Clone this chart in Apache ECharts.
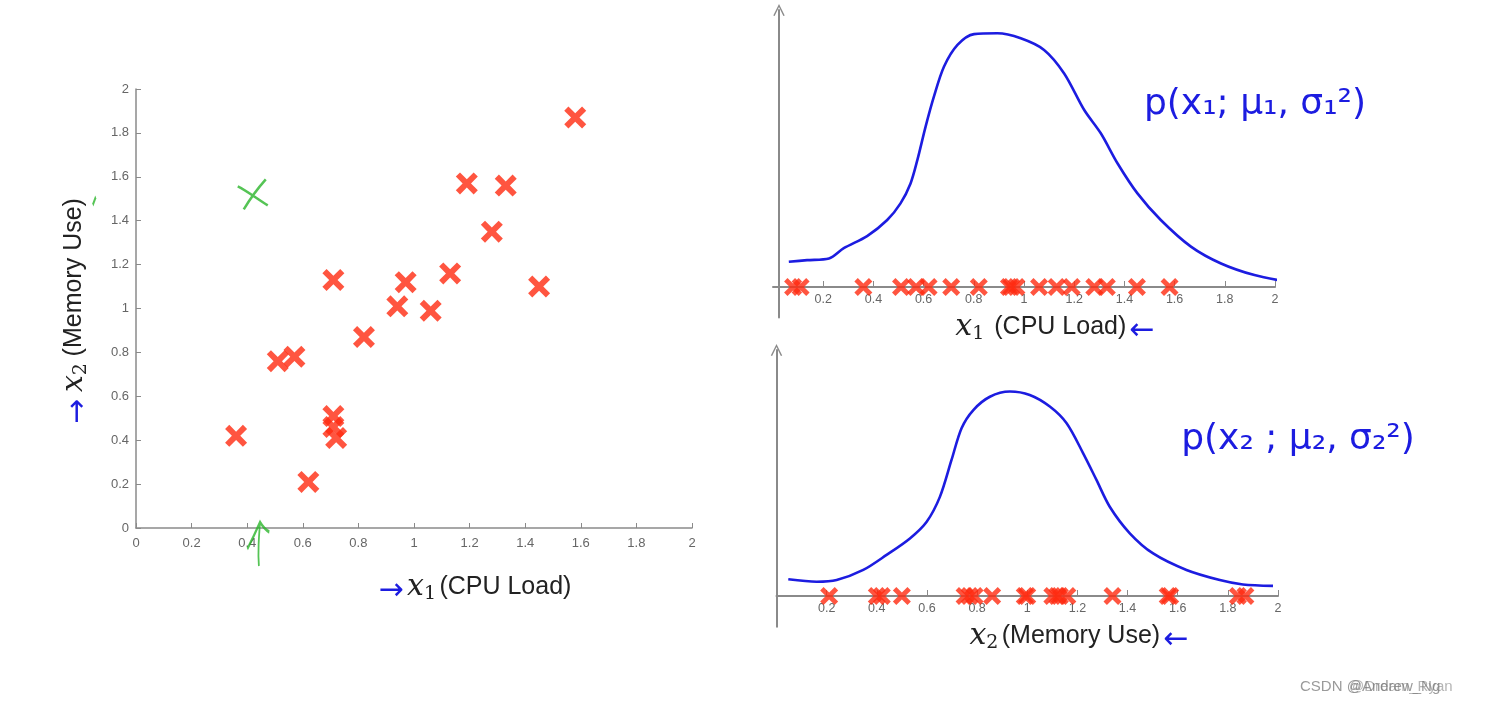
<!DOCTYPE html>
<html><head><meta charset="utf-8">
<script src="https://cdn.jsdelivr.net/npm/echarts/dist/echarts.min.js"></script>
<style>html,body{margin:0;padding:0;background:#fff}#c{width:1485px;height:706px}</style>
</head><body><div id="c"></div>
<script>
// ---- data ----
const cpuLoad   = [1.58, 1.19, 1.33, 1.28, 1.13, 1.45, 0.71, 0.97, 0.94, 1.06, 0.82, 0.51, 0.57, 0.71, 0.71, 0.72, 0.36, 0.62];
const memoryUse = [1.87, 1.57, 1.56, 1.35, 1.16, 1.10, 1.13, 1.12, 1.01, 0.99, 0.87, 0.76, 0.78, 0.51, 0.46, 0.41, 0.42, 0.21];
const anomalyPoint = [0.42, 1.52];
const anomalyArrow = [0.44, -0.073];
const strayMark = [-0.15, 1.49];

const rugCpu = [0.08, 0.11, 0.36, 0.51, 0.57, 0.62, 0.71, 0.82, 0.94, 0.95, 0.97, 1.06, 1.13, 1.19, 1.28, 1.33, 1.45, 1.58];
const rugMem = [0.21, 0.40, 0.42, 0.50, 0.75, 0.77, 0.79, 0.86, 0.99, 1.00, 1.10, 1.12, 1.13, 1.16, 1.34, 1.56, 1.57, 1.84, 1.87];

const curveCpuX = [0.063, 0.136, 0.223, 0.282, 0.375, 0.455, 0.508, 0.548, 0.575, 0.608, 0.641, 0.681, 0.735, 0.801, 0.894, 0.987, 1.080, 1.160, 1.240, 1.306, 1.373, 1.452, 1.545, 1.665, 1.785, 1.918, 2.051];
const curveCpuY = [0.091, 0.097, 0.103, 0.140, 0.184, 0.242, 0.302, 0.374, 0.458, 0.579, 0.687, 0.795, 0.874, 0.913, 0.916, 0.898, 0.856, 0.771, 0.639, 0.555, 0.446, 0.338, 0.242, 0.146, 0.085, 0.043, 0.019];
const curveMemX = [0.047, 0.160, 0.240, 0.346, 0.439, 0.532, 0.599, 0.652, 0.698, 0.738, 0.785, 0.851, 0.931, 1.010, 1.090, 1.157, 1.223, 1.276, 1.329, 1.409, 1.502, 1.635, 1.768, 1.860, 1.980];
const curveMemY = [0.068, 0.058, 0.065, 0.106, 0.167, 0.234, 0.302, 0.404, 0.553, 0.682, 0.756, 0.810, 0.831, 0.817, 0.770, 0.702, 0.580, 0.472, 0.363, 0.255, 0.173, 0.106, 0.065, 0.047, 0.041];

// ---- styling ----
const RED = '#ff2a10', BLUE = '#1c1ce0', GREEN = '#2ab52a', AXIS = '#8a8a8a', LABEL = '#666';
const THICK_X = 'path://M0,3.8 L3.8,0 L10,6.2 L16.2,0 L20,3.8 L13.8,10 L20,16.2 L16.2,20 L10,13.8 L3.8,20 L0,16.2 L6.2,10 Z';
const GREEN_X = 'path://M0,7 C10,12 20,20 30,26 M6,30 C12,20 20,9 28,0';
const GREEN_ARROW = 'path://M12,44 C11,30 12,15 13,0 M2,27 C6,18 10,8 13,0 C15,4 18,8 21,10';
const STRAY = 'path://M0,8 L3,0';
const CHEVRON = 'path://M0,12 L6,0 L12,12 L10.6,12.6 L6,3.2 L1.4,12.6 Z';

const tickFont = {color: LABEL, fontFamily: 'Liberation Sans', fontSize: 13};

const chart = echarts.init(document.getElementById('c'), null, {renderer: 'canvas'});

function title(x, y, text, rotation, subSize) {
  return {
    type: 'text', x: x, y: y, rotation: rotation || 0, z: 10,
    style: {
      text: text, align: 'center', verticalAlign: 'middle',
      rich: {
        a: {fontSize: 30, fontFamily: 'DejaVu Sans', fill: BLUE, padding: [8, 0, 0, 0]},
        x: {fontSize: 30, fontFamily: 'DejaVu Serif', fontStyle: 'italic', fill: '#222'},
        s: {fontSize: subSize || 19, fontFamily: 'DejaVu Serif', fill: '#222', padding: [14, 0, 0, 0]},
        t: {fontSize: 25, fontFamily: 'Liberation Sans', fill: '#222'}
      }
    }
  };
}

const option = {
  animation: false,
  backgroundColor: '#fff',
  grid: [
    {left: 136, top: 89, width: 556, height: 439},
    {left: 773, top: 10, width: 502, height: 307.5},
    {left: 776.5, top: 350, width: 501.5, height: 276.75}
  ],
  xAxis: [
    {gridIndex: 0, type: 'value', min: 0, max: 2, interval: 0.2,
     axisLine: {lineStyle: {color: AXIS, width: 1.5}},
     axisTick: {inside: true, length: 5, lineStyle: {color: AXIS}},
     axisLabel: Object.assign({margin: 9}, tickFont), splitLine: {show: false}},
    {gridIndex: 1, type: 'value', min: 0, max: 2, interval: 0.2, position: 'bottom', offset: -30.5,
     axisLine: {onZero: false, lineStyle: {color: AXIS, width: 2}},
     axisTick: {inside: true, length: 6, lineStyle: {color: AXIS}},
     axisLabel: Object.assign({margin: 6, showMinLabel: false}, tickFont, {fontSize: 12.5}), splitLine: {show: false}},
    {gridIndex: 2, type: 'value', min: 0, max: 2, interval: 0.2, position: 'bottom', offset: -30.75,
     axisLine: {onZero: false, lineStyle: {color: AXIS, width: 2}},
     axisTick: {inside: true, length: 6, lineStyle: {color: AXIS}},
     axisLabel: Object.assign({margin: 6, showMinLabel: false}, tickFont, {fontSize: 12.5}), splitLine: {show: false}}
  ],
  yAxis: [
    {gridIndex: 0, type: 'value', min: 0, max: 2, interval: 0.2,
     axisLine: {show: true, lineStyle: {color: AXIS, width: 1.5}},
     axisTick: {show: true, inside: true, length: 5, lineStyle: {color: AXIS}},
     axisLabel: Object.assign({margin: 7}, tickFont), splitLine: {show: false}},
    {gridIndex: 1, type: 'value', min: -0.11, max: 1,
     offset: -6,
     axisLine: {show: true, onZero: false, symbol: ['none', CHEVRON], symbolSize: [13, 12], lineStyle: {color: AXIS, width: 2}},
     axisTick: {show: false}, axisLabel: {show: false}, splitLine: {show: false}},
    {gridIndex: 2, type: 'value', min: -0.125, max: 1,
     axisLine: {show: true, onZero: false, symbol: ['none', CHEVRON], symbolSize: [13, 12], lineStyle: {color: AXIS, width: 2}},
     axisTick: {show: false}, axisLabel: {show: false}, splitLine: {show: false}}
  ],
  series: [
    {type: 'scatter', xAxisIndex: 0, yAxisIndex: 0, z: 5,
     data: cpuLoad.map((x, i) => [x, memoryUse[i]]),
     symbol: THICK_X, symbolSize: 22, itemStyle: {color: RED}},
    {type: 'scatter', xAxisIndex: 0, yAxisIndex: 0, z: 6, clip: false,
     data: [
       {value: anomalyPoint, symbol: GREEN_X, symbolSize: [30, 30]},
       {value: anomalyArrow, symbol: GREEN_ARROW, symbolSize: [22, 44]},
       {value: strayMark, symbol: STRAY, symbolSize: [3, 8]}
     ],
     itemStyle: {color: 'rgba(0,0,0,0)', borderColor: GREEN, borderWidth: 2.5}},
    {type: 'line', xAxisIndex: 1, yAxisIndex: 1, clip: false, smooth: 0.3, showSymbol: false, z: 3,
     data: curveCpuX.map((x, i) => [x, curveCpuY[i]]),
     lineStyle: {color: BLUE, width: 2.6}},
    {type: 'scatter', xAxisIndex: 1, yAxisIndex: 1, z: 5,
     data: rugCpu.map(v => [v, 0]), symbol: THICK_X, symbolSize: 18, itemStyle: {color: RED}},
    {type: 'line', xAxisIndex: 2, yAxisIndex: 2, clip: false, smooth: 0.3, showSymbol: false, z: 3,
     data: curveMemX.map((x, i) => [x, curveMemY[i]]),
     lineStyle: {color: BLUE, width: 2.6}},
    {type: 'scatter', xAxisIndex: 2, yAxisIndex: 2, z: 5,
     data: rugMem.map(v => [v, 0]), symbol: THICK_X, symbolSize: 18, itemStyle: {color: RED}}
  ],
  graphic: [
    title(475, 587, '{a|→} {x|x}{s|1} {t|(CPU Load)}'),
    title(74, 311, '{a|→}  {x|x}{s|2}  {t|(Memory Use)}', Math.PI / 2),
    title(1055, 327, '{x|x}{s|1}   {t|(CPU Load)} {a|←}'),
    title(1079, 636, '{x|x}{s|2} {t|(Memory Use)} {a|←}'),
    {type: 'text', x: 1255, y: 105, z: 10,
     style: {text: 'p(x₁; μ₁, σ₁²)', align: 'center', verticalAlign: 'middle', fill: BLUE, fontSize: 36, fontFamily: 'DejaVu Sans'}},
    {type: 'text', x: 1298, y: 440, z: 10,
     style: {text: 'p(x₂ ; μ₂, σ₂²)', align: 'center', verticalAlign: 'middle', fill: BLUE, fontSize: 36, fontFamily: 'DejaVu Sans'}},
    {type: 'text', x: 1300, y: 687, z: 10,
     style: {text: 'CSDN @Andrew_Ng', align: 'left', verticalAlign: 'middle', fill: 'rgba(120,120,120,0.75)', fontSize: 15, fontFamily: 'Liberation Sans'}},
    {type: 'text', x: 1349, y: 687, z: 10,
     style: {text: '@Dream_Ryan', align: 'left', verticalAlign: 'middle', fill: 'rgba(120,120,120,0.55)', fontSize: 15, fontFamily: 'Liberation Sans'}}
  ]
};
chart.setOption(option);
</script>
</body></html>
